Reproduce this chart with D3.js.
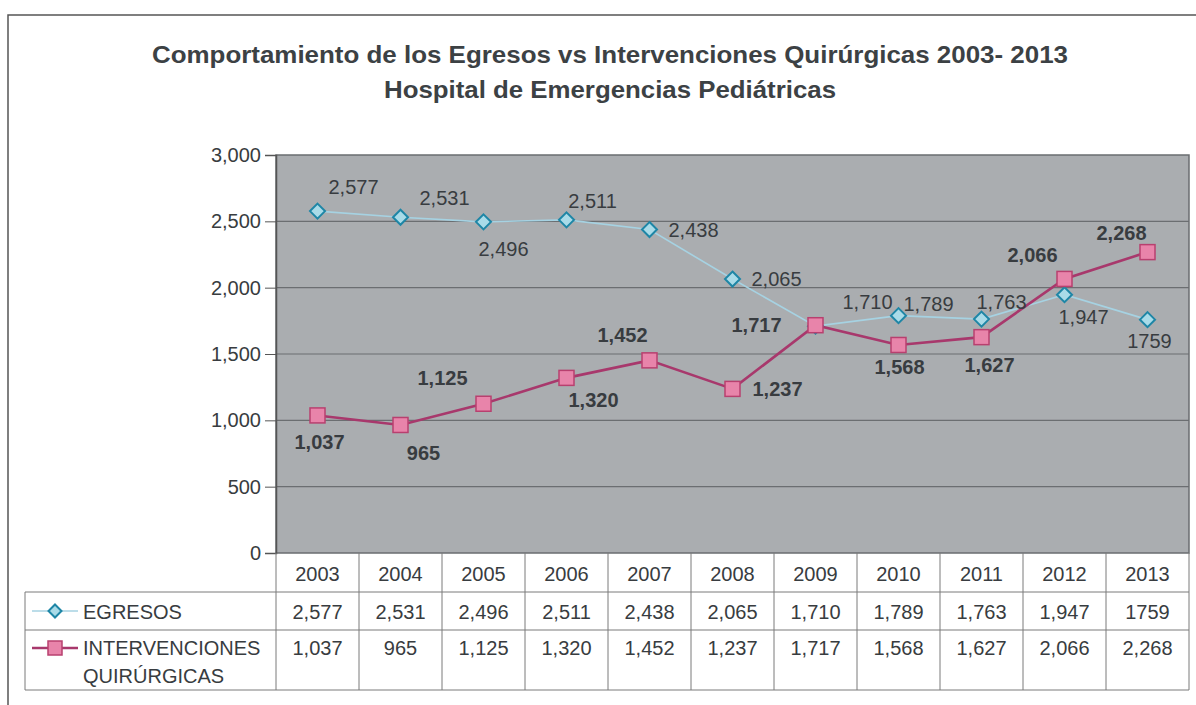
<!DOCTYPE html>
<html>
<head>
<meta charset="utf-8">
<script src="https://cdn.jsdelivr.net/npm/d3@7"></script>
<style>
  html, body { margin: 0; padding: 0; background: #ffffff; }
  svg { display: block; }
  text { font-family: "Liberation Sans", Arial, sans-serif; }
</style>
</head>
<body>
<svg id="chart" width="1196" height="705"></svg>
<script>
// ---------------- DATA ----------------
const years = ["2003","2004","2005","2006","2007","2008","2009","2010","2011","2012","2013"];
const egresos = [2577, 2531, 2496, 2511, 2438, 2065, 1710, 1789, 1763, 1947, 1759];
const intervenciones = [1037, 965, 1125, 1320, 1452, 1237, 1717, 1568, 1627, 2066, 2268];
const egresosLabels = ["2,577","2,531","2,496","2,511","2,438","2,065","1,710","1,789","1,763","1,947","1759"];
const intervLabels = ["1,037","965","1,125","1,320","1,452","1,237","1,717","1,568","1,627","2,066","2,268"];
const yTicks = [0, 500, 1000, 1500, 2000, 2500, 3000];
const titleLines = ["Comportamiento de los Egresos vs Intervenciones Quirúrgicas 2003- 2013",
                    "Hospital de Emergencias Pediátricas"];
const seriesNames = ["EGRESOS", ["INTERVENCIONES", "QUIRÚRGICAS"]];

// label placement offsets (dx, dy) relative to marker
const egresosOffsets = [[36,-24],[44,-19],[20,27],[26,-19],[44,0],[44,0],[52,-24],[30,-12],[20,-17],[19,22],[2,21]];
const intervOffsets = [[2,27],[23,28],[-41,-26],[27,22],[-27,-25],[45,0],[-59,0],[1,22],[8,28],[-32,-24],[-26,-19]];

// ---------------- LAYOUT ----------------
const svg = d3.select("#chart");
const plot = { left: 276, right: 1189, top: 155, bottom: 553 };
const table = { left: 25, rowHeader: 592, rowMid: 630, bottom: 690 };
const textColor = "#383c40";
const egColor = { line: "#a6d2e2", fill: "#a9dbe8", stroke: "#1e86a6" };
const inColor = { line: "#a8386c", fill: "#e884aa", stroke: "#b8406f" };

const x = d3.scaleBand().domain(years).range([plot.left, plot.right]).paddingInner(0).paddingOuter(0);
const y = d3.scaleLinear().domain([0, 3000]).range([plot.bottom, plot.top]);
const cx = d => x(d) + x.bandwidth() / 2;

// outer chart border
svg.append("path")
  .attr("d", `M8,705 L8,15 L1196,15`)
  .attr("fill", "none").attr("stroke", "#555").attr("stroke-width", 1.5);

// title
const titleWidths = [916, 452];
svg.append("g").selectAll("text").data(titleLines).join("text")
  .attr("x", 610).attr("y", (d, i) => 63 + i * 35)
  .attr("text-anchor", "middle")
  .attr("font-size", 24).attr("font-weight", "bold")
  .attr("textLength", (d, i) => titleWidths[i]).attr("lengthAdjust", "spacingAndGlyphs")
  .attr("fill", "#3c4144")
  .text(d => d);

// plot background
svg.append("rect")
  .attr("x", plot.left).attr("y", plot.top)
  .attr("width", plot.right - plot.left).attr("height", plot.bottom - plot.top)
  .attr("fill", "#aaadb0");

// gridlines
svg.append("g").selectAll("line").data(yTicks.filter(t => t > 0 && t < 3000)).join("line")
  .attr("x1", plot.left).attr("x2", plot.right)
  .attr("y1", d => y(d)).attr("y2", d => y(d))
  .attr("stroke", "#6b6e71").attr("stroke-width", 1.2);

// plot border
svg.append("rect")
  .attr("x", plot.left).attr("y", plot.top)
  .attr("width", plot.right - plot.left).attr("height", plot.bottom - plot.top)
  .attr("fill", "none").attr("stroke", "#6a6d70").attr("stroke-width", 1.5);

// y axis
const yAxis = svg.append("g")
  .attr("transform", `translate(${plot.left},0)`)
  .call(d3.axisLeft(y).tickValues(yTicks).tickFormat(d3.format(",")).tickSize(11).tickPadding(4));
yAxis.select(".domain").attr("stroke", "#555").attr("stroke-width", 1.5);
yAxis.selectAll(".tick line").attr("stroke", "#555");
yAxis.selectAll(".tick text")
  .attr("font-size", 20).attr("fill", textColor)
  .attr("font-family", "'Liberation Sans', Arial, sans-serif");

// lines
const lineGen = d3.line().x((d, i) => cx(years[i])).y(d => y(d));
svg.append("path").datum(egresos)
  .attr("d", lineGen).attr("fill", "none")
  .attr("stroke", egColor.line).attr("stroke-width", 1.6);
svg.append("path").datum(intervenciones)
  .attr("d", lineGen).attr("fill", "none")
  .attr("stroke", inColor.line).attr("stroke-width", 2.6);

// markers
const diamond = (s) => `M0,${-s} L${s},0 L0,${s} L${-s},0 Z`;
svg.append("g").selectAll("path").data(egresos).join("path")
  .attr("transform", (d, i) => `translate(${cx(years[i])},${y(d)})`)
  .attr("d", diamond(7.5))
  .attr("fill", egColor.fill).attr("stroke", egColor.stroke).attr("stroke-width", 2);
svg.append("g").selectAll("rect").data(intervenciones).join("rect")
  .attr("x", (d, i) => cx(years[i]) - 7.5).attr("y", d => y(d) - 7.5)
  .attr("width", 15).attr("height", 15)
  .attr("fill", inColor.fill).attr("stroke", inColor.stroke).attr("stroke-width", 1.5);

// data labels
svg.append("g").selectAll("text").data(egresos).join("text")
  .attr("x", (d, i) => cx(years[i]) + egresosOffsets[i][0])
  .attr("y", (d, i) => y(d) + egresosOffsets[i][1])
  .attr("text-anchor", "middle").attr("dominant-baseline", "central")
  .attr("font-size", 20).attr("fill", textColor)
  .text((d, i) => egresosLabels[i]);
svg.append("g").selectAll("text").data(intervenciones).join("text")
  .attr("x", (d, i) => cx(years[i]) + intervOffsets[i][0])
  .attr("y", (d, i) => y(d) + intervOffsets[i][1])
  .attr("text-anchor", "middle").attr("dominant-baseline", "central")
  .attr("font-size", 20).attr("font-weight", "bold").attr("fill", textColor)
  .text((d, i) => intervLabels[i]);

// ---------------- DATA TABLE ----------------
const tg = svg.append("g");
const gridStroke = "#7a7a7a";
[table.rowHeader, table.rowMid, table.bottom].forEach(yy => {
  tg.append("line").attr("x1", table.left).attr("x2", plot.right)
    .attr("y1", yy).attr("y2", yy).attr("stroke", gridStroke);
});
tg.append("line").attr("x1", table.left).attr("x2", table.left)
  .attr("y1", table.rowHeader).attr("y2", table.bottom).attr("stroke", gridStroke);
const colEdges = years.map(d => x(d)).concat([plot.right]);
tg.selectAll("line.col").data(colEdges).join("line").attr("class", "col")
  .attr("x1", d => d).attr("x2", d => d)
  .attr("y1", plot.bottom).attr("y2", table.bottom)
  .attr("stroke", gridStroke);

tg.selectAll("text.yr").data(years).join("text").attr("class", "yr")
  .attr("x", d => cx(d)).attr("y", (plot.bottom + table.rowHeader) / 2 + 1)
  .attr("text-anchor", "middle").attr("dominant-baseline", "central")
  .attr("font-size", 20).attr("fill", textColor).text(d => d);
tg.selectAll("text.eg").data(egresosLabels).join("text").attr("class", "eg")
  .attr("x", (d, i) => cx(years[i])).attr("y", (table.rowHeader + table.rowMid) / 2 + 1)
  .attr("text-anchor", "middle").attr("dominant-baseline", "central")
  .attr("font-size", 20).attr("fill", textColor).text(d => d);
tg.selectAll("text.in").data(intervLabels).join("text").attr("class", "in")
  .attr("x", (d, i) => cx(years[i])).attr("y", table.rowMid + 18)
  .attr("text-anchor", "middle").attr("dominant-baseline", "central")
  .attr("font-size", 20).attr("fill", textColor).text(d => d);

// legend keys
const egY = (table.rowHeader + table.rowMid) / 2;
const inY = table.rowMid + 18;
tg.append("line").attr("x1", 32).attr("x2", 78).attr("y1", egY).attr("y2", egY)
  .attr("stroke", egColor.line).attr("stroke-width", 1.6);
tg.append("path").attr("transform", `translate(55,${egY})`).attr("d", diamond(6.5))
  .attr("fill", egColor.fill).attr("stroke", egColor.stroke).attr("stroke-width", 2);
tg.append("line").attr("x1", 32).attr("x2", 78).attr("y1", inY).attr("y2", inY)
  .attr("stroke", inColor.line).attr("stroke-width", 2.6);
tg.append("rect").attr("x", 55 - 7).attr("y", inY - 7).attr("width", 14).attr("height", 14)
  .attr("fill", inColor.fill).attr("stroke", inColor.stroke).attr("stroke-width", 1.5);

tg.append("text").attr("x", 83).attr("y", egY + 1)
  .attr("dominant-baseline", "central").attr("font-size", 20).attr("fill", textColor)
  .text(seriesNames[0]);
tg.append("text").selectAll("tspan").data(seriesNames[1]).join("tspan")
  .attr("x", 83).attr("y", (d, i) => inY + i * 28)
  .attr("dominant-baseline", "central").attr("font-size", 20).attr("fill", textColor)
  .text(d => d);
</script>
</body>
</html>
